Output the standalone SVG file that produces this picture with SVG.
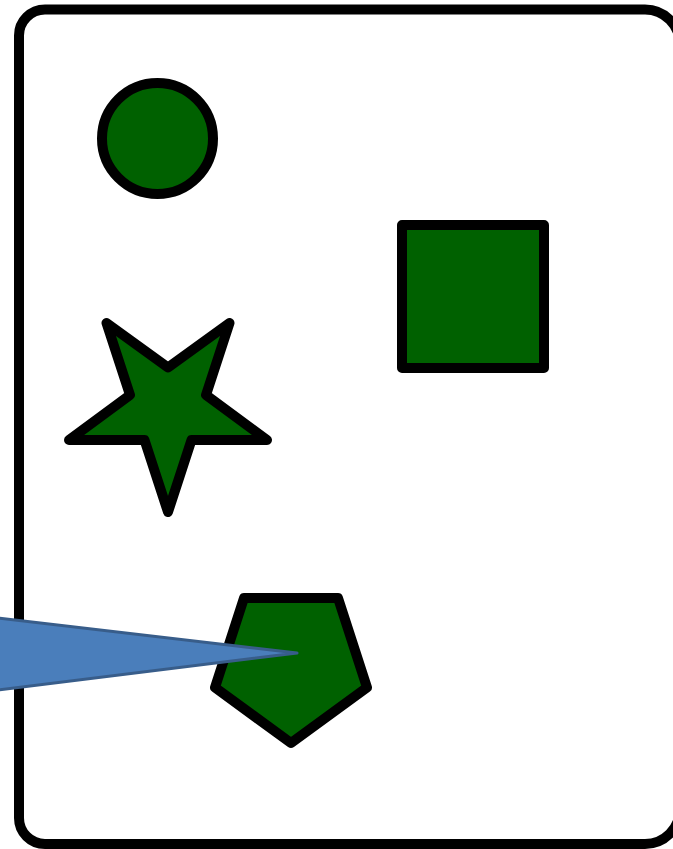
<svg xmlns="http://www.w3.org/2000/svg" width="673" height="849" viewBox="0 0 673 849">
<style>
.frame{fill:#ffffff;stroke:#000000;stroke-width:10}
.shape{fill:#006100;stroke:#000000;stroke-width:10;stroke-linejoin:round}
.wedge{fill:#4a7ebb;stroke:#385d8a;stroke-width:3;stroke-linejoin:round}
</style>
<rect width="673" height="849" fill="#ffffff"/>
<g id="frame"><path class="frame" d="M 45,9.5 H 645 A 35 35 0 0 1 680 44.5 V 809 A 35 35 0 0 1 645 844 H 45 A 26 26 0 0 1 19 818 V 35.5 A 26 26 0 0 1 45 9.5 Z"/></g>
<g id="circle"><circle class="shape" cx="157.5" cy="138.5" r="55.5"/></g>
<g id="square"><rect class="shape" x="402" y="225" width="142" height="143"/></g>
<g id="star"><polygon class="shape" points="168,512 144.5,440 69,440 130,395 106.5,323 168,367.5 229.5,323 206,395 267,440 191.5,440"/></g>
<g id="pentagon"><polygon class="shape" points="244,598 338,598 367,687.5 291,743 215,687.5"/></g>
<g id="connectors"><polygon class="wedge" points="-10,617 297,653 -10,691"/></g>
</svg>
